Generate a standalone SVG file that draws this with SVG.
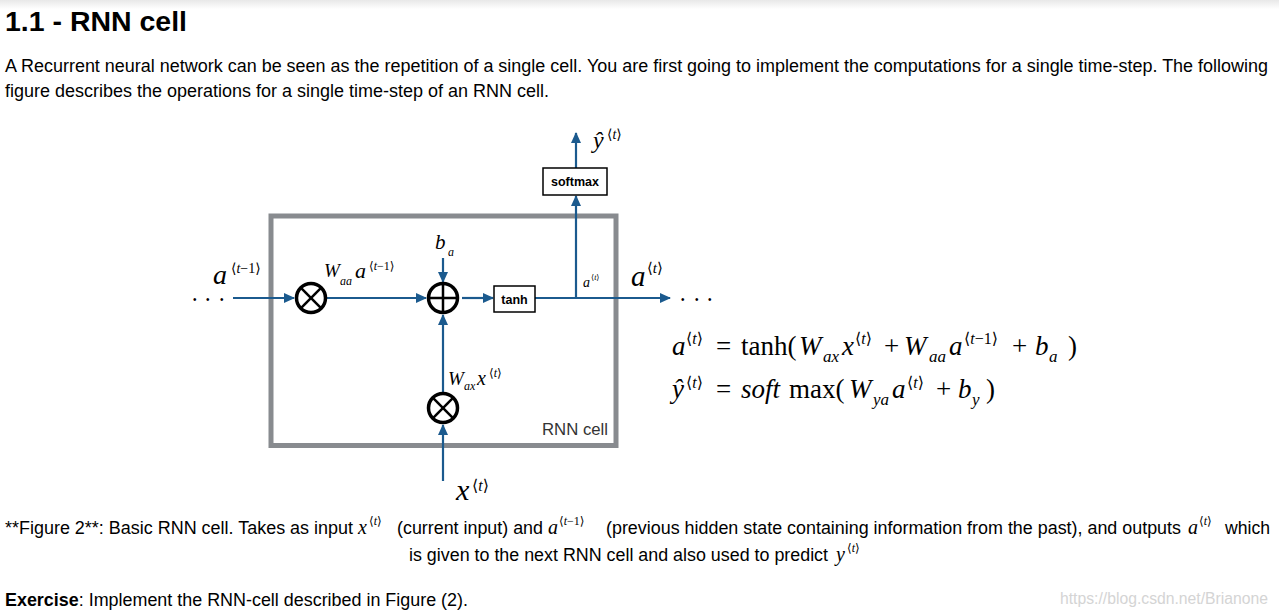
<svg xmlns="http://www.w3.org/2000/svg" width="1279" height="613" viewBox="0 0 1279 613">
<defs>
<linearGradient id="topshade" x1="0" y1="0" x2="0" y2="1">
<stop offset="0" stop-color="#e8e8e8"/>
<stop offset="1" stop-color="#ffffff"/>
</linearGradient>
<marker id="arr" markerUnits="userSpaceOnUse" markerWidth="11" markerHeight="10" refX="10" refY="5" orient="auto">
<path d="M0,0 L11,5 L0,10 z" fill="#1b5a8e"/>
</marker>
</defs>
<style>
.sans{font-family:"Liberation Sans",Arial,sans-serif;fill:#000}
.body{font-size:17.5px}
.title{font-size:27px;font-weight:bold}
.m{font-family:"Liberation Serif","DejaVu Serif",serif;fill:#000}
.it{font-style:italic}
.dots{font-family:"Liberation Sans",Arial,sans-serif;font-size:10px;fill:#000}
.conn{stroke:#1b5a8e;stroke-width:2.2;fill:none}
.op{fill:#fff;stroke:#000;stroke-width:3.5}
.opl{stroke:#000;stroke-width:2.5}
.box{fill:#fff;stroke:#000;stroke-width:1.5}
.lbl{font-family:"Liberation Sans",Arial,sans-serif;font-weight:bold;font-size:12.5px;text-anchor:middle;fill:#000}
</style>
<rect x="0" y="0" width="1279" height="613" fill="#fff"/>
<rect x="0" y="0" width="1279" height="9" fill="url(#topshade)"/>

<!-- page text -->
<text class="sans title" x="5" y="31" textLength="182" lengthAdjust="spacingAndGlyphs">1.1 - RNN cell</text>
<text class="sans body" x="5" y="72" textLength="1263" lengthAdjust="spacingAndGlyphs">A Recurrent neural network can be seen as the repetition of a single cell. You are first going to implement the computations for a single time-step. The following</text>
<text class="sans body" x="5" y="97" textLength="544" lengthAdjust="spacingAndGlyphs">figure describes the operations for a single time-step of an RNN cell.</text>

<!-- RNN cell frame -->
<g id="rnn-cell">
<rect x="271" y="216" width="345" height="229.5" fill="none" stroke="#888b8f" stroke-width="5"/>
<text class="sans" x="542" y="435" font-size="16" textLength="66" lengthAdjust="spacingAndGlyphs" style="fill:#333">RNN cell</text>
</g>

<!-- connectors -->
<g id="connectors">
<line class="conn" x1="233" y1="298" x2="294" y2="298" marker-end="url(#arr)"/>
<line class="conn" x1="327" y1="298" x2="426" y2="298" marker-end="url(#arr)"/>
<line class="conn" x1="462" y1="298" x2="493" y2="298" marker-end="url(#arr)"/>
<line class="conn" x1="535" y1="298" x2="670" y2="298" marker-end="url(#arr)"/>
<line class="conn" x1="576" y1="298" x2="576" y2="196" marker-end="url(#arr)"/>
<line class="conn" x1="576" y1="168" x2="576" y2="133" marker-end="url(#arr)"/>
<line class="conn" x1="443" y1="258" x2="443" y2="282" marker-end="url(#arr)"/>
<line class="conn" x1="443" y1="481" x2="443" y2="425" marker-end="url(#arr)"/>
<line class="conn" x1="443" y1="392" x2="443" y2="315" marker-end="url(#arr)"/>
</g>

<!-- operator nodes -->
<g id="mul-a">
<circle class="op" cx="311" cy="298" r="14.5"/>
<line class="opl" x1="300.7" y1="287.7" x2="321.3" y2="308.3"/>
<line class="opl" x1="321.3" y1="287.7" x2="300.7" y2="308.3"/>
</g>
<g id="add">
<circle class="op" cx="443" cy="298" r="14.5"/>
<line class="opl" x1="428.5" y1="298" x2="457.5" y2="298"/>
<line class="opl" x1="443" y1="283.5" x2="443" y2="312.5"/>
</g>
<g id="mul-x">
<circle class="op" cx="443" cy="408" r="14.5"/>
<line class="opl" x1="432.7" y1="397.7" x2="453.3" y2="418.3"/>
<line class="opl" x1="453.3" y1="397.7" x2="432.7" y2="418.3"/>
</g>
<g id="tanh">
<rect class="box" x="494" y="286" width="41" height="26"/>
<text class="lbl" x="514.5" y="303.5">tanh</text>
</g>
<g id="softmax">
<rect class="box" x="543" y="168" width="64" height="27"/>
<text class="lbl" x="575" y="186">softmax</text>
</g>

<!-- diagram labels -->
<g id="labels">
<text class="dots" x="193 206 220" y="303">•••</text>
<text class="dots" x="681 695 708" y="303">•••</text>
<text class="m it" x="213" y="284" font-size="28">a</text>
<text class="m" x="231" y="273" font-size="14">⟨<tspan class="it">t</tspan>−1⟩</text>

<text class="m it" x="324" y="277" font-size="19">W</text>
<text class="m it" x="340" y="285" font-size="12">aa</text>
<text class="m it" x="355" y="278" font-size="22">a</text>
<text class="m" x="369" y="270" font-size="12">⟨<tspan class="it">t</tspan>−1⟩</text>

<text class="m it" x="435" y="249" font-size="21">b</text>
<text class="m it" x="448" y="256" font-size="12">a</text>

<text class="m it" x="583" y="287" font-size="14">a</text>
<text class="m" x="591" y="280" font-size="8">⟨<tspan class="it">t</tspan>⟩</text>

<text class="m it" x="631" y="286" font-size="29">a</text>
<text class="m" x="647" y="273" font-size="15">⟨<tspan class="it">t</tspan>⟩</text>

<text class="m it" x="593" y="148" font-size="24">ŷ</text>
<text class="m" x="607" y="139" font-size="14">⟨<tspan class="it">t</tspan>⟩</text>

<text class="m it" x="448" y="385" font-size="19">W</text>
<text class="m it" x="464" y="390" font-size="12">ax</text>
<text class="m it" x="477" y="385" font-size="20">x</text>
<text class="m" x="489" y="377" font-size="12">⟨<tspan class="it">t</tspan>⟩</text>

<text class="m it" x="456" y="500" font-size="30">x</text>
<text class="m" x="472" y="491" font-size="16">⟨<tspan class="it">t</tspan>⟩</text>
</g>

<!-- equations -->
<g id="equations" class="m">
<text class="m it" x="672" y="355" font-size="27">a</text>
<text class="m" x="686" y="344" font-size="16">⟨<tspan class="it">t</tspan>⟩</text>
<text class="m" x="716" y="355" font-size="27">=</text>
<text class="m" x="741" y="355" font-size="27">tanh(</text>
<text class="m it" x="799" y="355" font-size="27">W</text>
<text class="m it" x="823" y="362" font-size="17">ax</text>
<text class="m it" x="842" y="355" font-size="27">x</text>
<text class="m" x="855" y="344" font-size="16">⟨<tspan class="it">t</tspan>⟩</text>
<text class="m" x="884" y="355" font-size="27">+</text>
<text class="m it" x="904" y="355" font-size="27">W</text>
<text class="m it" x="929" y="362" font-size="17">aa</text>
<text class="m it" x="949" y="355" font-size="27">a</text>
<text class="m" x="964" y="344" font-size="16">⟨<tspan class="it">t</tspan>−1⟩</text>
<text class="m" x="1012" y="355" font-size="27">+</text>
<text class="m it" x="1035" y="355" font-size="27">b</text>
<text class="m it" x="1049" y="362" font-size="17">a</text>
<text class="m" x="1068" y="355" font-size="27">)</text>

<text class="m it" x="672" y="398" font-size="27">ŷ</text>
<text class="m" x="686" y="388" font-size="16">⟨<tspan class="it">t</tspan>⟩</text>
<text class="m" x="716" y="398" font-size="27">=</text>
<text class="m it" x="741" y="398" font-size="27">soft</text>
<text class="m" x="789" y="398" font-size="27">max(</text>
<text class="m it" x="849" y="398" font-size="27">W</text>
<text class="m it" x="873" y="405" font-size="17">ya</text>
<text class="m it" x="892" y="398" font-size="27">a</text>
<text class="m" x="907" y="388" font-size="16">⟨<tspan class="it">t</tspan>⟩</text>
<text class="m" x="936" y="398" font-size="27">+</text>
<text class="m it" x="958" y="398" font-size="27">b</text>
<text class="m it" x="972" y="405" font-size="17">y</text>
<text class="m" x="986" y="398" font-size="27">)</text>
</g>

<!-- caption -->
<g id="caption">
<text class="sans body" x="5" y="534" textLength="348" lengthAdjust="spacingAndGlyphs">**Figure 2**: Basic RNN cell. Takes as input</text>
<text class="m it" x="358" y="534" font-size="20">x</text>
<text class="m" x="369" y="525" font-size="12">⟨<tspan class="it">t</tspan>⟩</text>
<text class="sans body" x="397" y="534" textLength="146" lengthAdjust="spacingAndGlyphs">(current input) and</text>
<text class="m it" x="548" y="534" font-size="20">a</text>
<text class="m" x="559" y="525" font-size="12">⟨<tspan class="it">t</tspan>−1⟩</text>
<text class="sans body" x="606" y="534" textLength="575" lengthAdjust="spacingAndGlyphs">(previous hidden state containing information from the past), and outputs</text>
<text class="m it" x="1188" y="534" font-size="20">a</text>
<text class="m" x="1199" y="525" font-size="12">⟨<tspan class="it">t</tspan>⟩</text>
<text class="sans body" x="1225" y="534" textLength="45" lengthAdjust="spacingAndGlyphs">which</text>
<text class="sans body" x="409" y="561" textLength="419" lengthAdjust="spacingAndGlyphs">is given to the next RNN cell and also used to predict</text>
<text class="m it" x="836" y="561" font-size="20">y</text>
<text class="m" x="847" y="552" font-size="12">⟨<tspan class="it">t</tspan>⟩</text>
<text class="sans body" x="5" y="606" textLength="463" lengthAdjust="spacingAndGlyphs"><tspan font-weight="bold">Exercise</tspan>: Implement the RNN-cell described in Figure (2).</text>
<text class="sans" x="1060" y="604" font-size="16" style="fill:#d4d4d4" textLength="208" lengthAdjust="spacingAndGlyphs">https://blog.csdn.net/Brianone</text>
</g>
</svg>
